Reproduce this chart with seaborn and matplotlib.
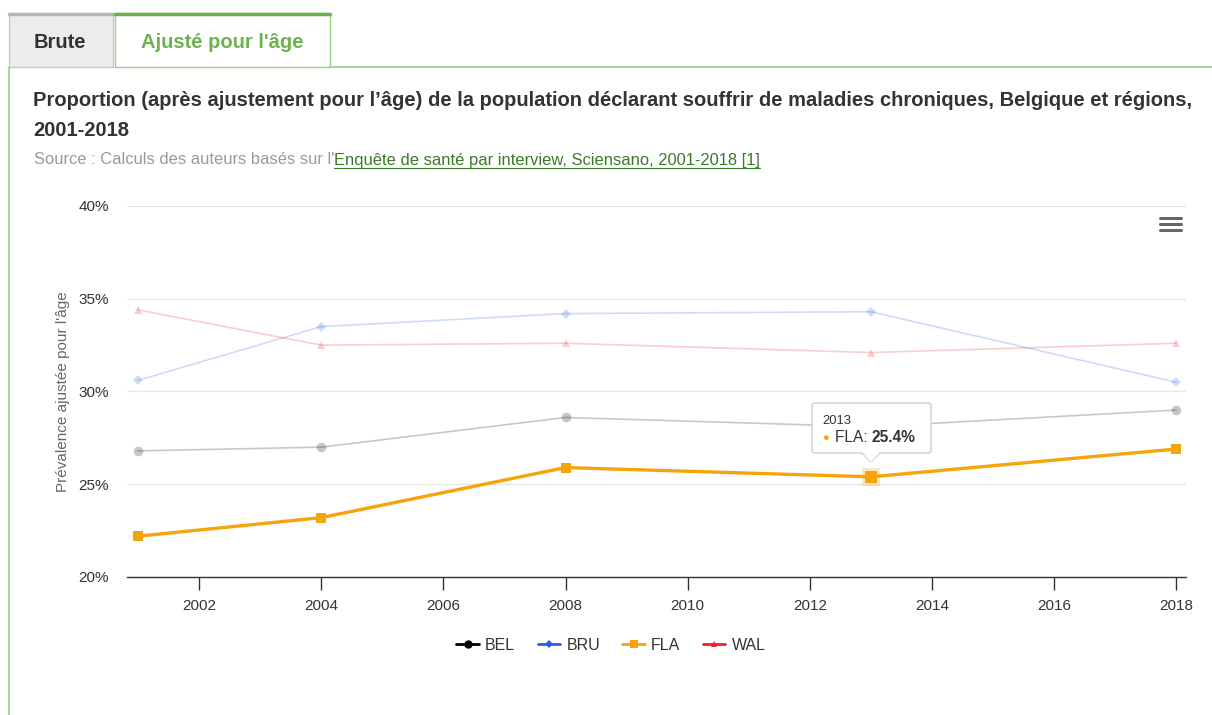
import matplotlib
matplotlib.use("Agg")
import matplotlib.pyplot as plt
import seaborn as sns
import pandas as pd
from matplotlib.lines import Line2D
from matplotlib.patches import Rectangle, FancyBboxPatch, Polygon
from matplotlib.ticker import FuncFormatter

# ---- data ----
years = [2001, 2004, 2008, 2013, 2018]
bel = [26.8, 27.0, 28.6, 28.1, 29.0]
bru = [30.6, 33.5, 34.2, 34.3, 30.5]
fla = [22.2, 23.2, 25.9, 25.4, 26.9]
wal = [34.4, 32.5, 32.6, 32.1, 32.6]
series_names = ["BEL", "BRU", "FLA", "WAL"]
x_ticks = [2002, 2004, 2006, 2008, 2010, 2012, 2014, 2016, 2018]
y_ticks = [20, 25, 30, 35, 40]

W, H = 1212, 715
sns.set_theme(style="white")
plt.rcParams["font.family"] = ["Liberation Sans", "DejaVu Sans"]

fig = plt.figure(figsize=(W / 100, H / 100), dpi=100)

def fx(px):
    return px / W

def fy(py):
    return 1 - py / H

# ---- tabs & panel ----
green = "#6cb24f"
fig.patches.append(Rectangle((fx(9), fy(67)), fx(113) - fx(9), fy(13) - fy(67),
                             transform=fig.transFigure, facecolor="#ececec",
                             edgecolor="#c9c9c9", lw=1))
fig.add_artist(Line2D([fx(9), fx(113)], [fy(14), fy(14)], color="#b5b5b5", lw=2.5,
                      transform=fig.transFigure))
fig.patches.append(Rectangle((fx(115), fy(67)), fx(330) - fx(115), fy(13) - fy(67),
                             transform=fig.transFigure, facecolor="white",
                             edgecolor="#9bd08a", lw=1))
fig.add_artist(Line2D([fx(115), fx(330)], [fy(14), fy(14)], color=green, lw=2.5,
                      transform=fig.transFigure))
fig.add_artist(Line2D([fx(330), fx(1212)], [fy(67), fy(67)], color="#9bd08a", lw=1.2,
                      transform=fig.transFigure))
fig.add_artist(Line2D([fx(9), fx(9)], [fy(67), fy(715)], color="#9bd08a", lw=1.2,
                      transform=fig.transFigure))
fig.text(fx(60), fy(42), "Brute", ha="center", va="center", fontsize=14.5,
         fontweight="bold", color="#333333")
fig.text(fx(222), fy(42), "Ajusté pour l'âge", ha="center", va="center", fontsize=14.5,
         fontweight="bold", color=green)

# ---- titles ----
fig.text(fx(33), fy(101), "Proportion (après ajustement pour l’âge) de la population déclarant souffrir de maladies chroniques, Belgique et régions,",
         ha="left", va="center", fontsize=14.5, fontweight="bold", color="#333333")
fig.text(fx(33), fy(130), "2001-2018", ha="left", va="center", fontsize=14.5,
         fontweight="bold", color="#333333")
src1 = fig.text(fx(34), fy(160), "Source : Calculs des auteurs basés sur l'", ha="left",
                va="center", fontsize=11.9, color="#9a9a9a")

# ---- axes ----
ax = fig.add_axes([fx(127), fy(577), fx(1186) - fx(127), fy(206) - fy(577)])
ax.set_facecolor("white")

colors = {"BEL": "#000000", "BRU": "#2a5fe0", "FLA": "#f5a40a", "WAL": "#e8232f"}
markers = {"BEL": "o", "BRU": "D", "FLA": "s", "WAL": "^"}
values = {"BEL": bel, "BRU": bru, "FLA": fla, "WAL": wal}
msize = {"BEL": 7, "BRU": 5, "FLA": 7, "WAL": 6}

for name in series_names:
    df = pd.DataFrame({"year": years, "value": values[name]})
    active = name == "FLA"
    sns.lineplot(data=df, x="year", y="value", ax=ax, color=colors[name],
                 marker=markers[name], markersize=msize[name], markeredgewidth=0,
                 linewidth=2.4 if active else 1.2, alpha=1.0 if active else 0.22,
                 zorder=4 if active else 2, legend=False)

# highlighted hover point
ax.plot([years[3]], [fla[3]], marker="s", markersize=13, color=colors["FLA"],
        alpha=0.25, markeredgewidth=0, zorder=3)
ax.plot([years[3]], [fla[3]], marker="s", markersize=9, color=colors["FLA"],
        markeredgewidth=0, zorder=5)

ax.set_xlim(2000.82, 2018.16)
ax.set_ylim(20, 40)
ax.set_xticks(x_ticks)
ax.set_yticks(y_ticks)
ax.yaxis.set_major_formatter(FuncFormatter(lambda v, p: f"{v:.0f}%"))
ax.grid(axis="y", color="#e6e6e6", lw=1)
ax.grid(axis="x", visible=False)
for s in ["top", "right", "left"]:
    ax.spines[s].set_visible(False)
ax.spines["bottom"].set_color("#333333")
ax.spines["bottom"].set_linewidth(1)
ax.tick_params(axis="x", bottom=True, length=9, width=1, color="#333333",
               labelsize=11, labelcolor="#333333", pad=7)
ax.tick_params(axis="y", left=False, length=0, labelsize=11, labelcolor="#333333", pad=13)
ax.set_xlabel("")
ax.set_ylabel("Prévalence ajustée pour l'âge", fontsize=11, color="#666666", labelpad=6)

# ---- tooltip ----
box = FancyBboxPatch((fx(812), fy(453)), fx(931) - fx(812), fy(403) - fy(453),
                     boxstyle="round,pad=0,rounding_size=0.003",
                     transform=fig.transFigure, facecolor="white",
                     edgecolor="#cfcfcf", lw=1, zorder=10)
fig.patches.append(box)
tri = Polygon([[fx(862), fy(452)], [fx(880), fy(452)], [fx(871), fy(462)]],
              closed=True, transform=fig.transFigure, facecolor="white",
              edgecolor="none", zorder=11)
fig.patches.append(tri)
fig.add_artist(Line2D([fx(862), fx(871), fx(880)], [fy(453), fy(462), fy(453)],
                      color="#cfcfcf", lw=1, transform=fig.transFigure, zorder=11))
fig.text(fx(822), fy(421), "2013", ha="left", va="center", fontsize=9.4,
         color="#333333", zorder=12)
fig.text(fx(822), fy(438), "●", ha="left", va="center", fontsize=8,
         color=colors["FLA"], zorder=12)
t1 = fig.text(fx(835), fy(438), "FLA: ", ha="left", va="center", fontsize=11.2,
              color="#333333", zorder=12)

# ---- hamburger ----
for yy in (218, 224, 230):
    fig.add_artist(Line2D([fx(1160), fx(1181)], [fy(yy), fy(yy)], color="#666666",
                          lw=2.2, transform=fig.transFigure))

# ---- legend ----
handles = [Line2D([0], [0], color=colors[n], marker=markers[n], markersize=msize[n] - 1,
                  markeredgewidth=0, lw=2) for n in series_names]
fig.legend(handles, series_names, loc="center", bbox_to_anchor=(fx(611), fy(645)),
           ncol=4, frameon=False, fontsize=11.5, handlelength=1.4, handletextpad=0.4,
           columnspacing=1.4, labelcolor="#333333")

# ---- texts needing extents ----
fig.canvas.draw()
r = fig.canvas.get_renderer()
bb = src1.get_window_extent(r)
x0 = bb.x1 / W
link = fig.text(x0, fy(160), "Enquête de santé par interview, Sciensano, 2001-2018 [1]",
                ha="left", va="center", fontsize=11.9, color="#3b7a2a")
bb1 = t1.get_window_extent(r)
fig.text(bb1.x1 / W, fy(438), "25.4%", ha="left", va="center", fontsize=11.2,
         fontweight="bold", color="#333333", zorder=12)
fig.canvas.draw()
lb = link.get_window_extent(r)
fig.add_artist(Line2D([lb.x0 / W, lb.x1 / W], [(lb.y0 - 0.5) / H, (lb.y0 - 0.5) / H],
                      color="#3b7a2a", lw=0.8, transform=fig.transFigure))

fig.savefig("out.png", dpi=100)
